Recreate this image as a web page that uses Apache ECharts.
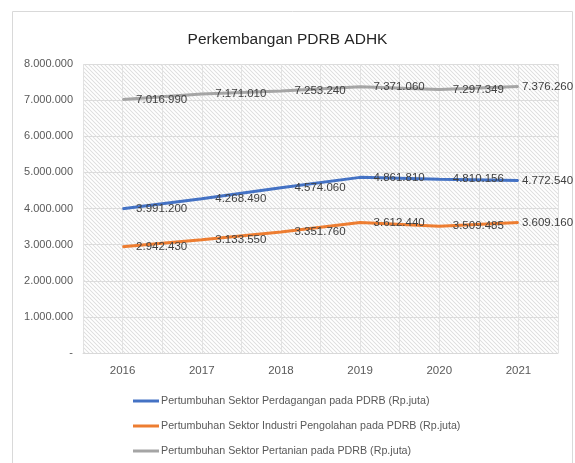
<!DOCTYPE html>
<html><head><meta charset="utf-8">
<script src="https://cdn.jsdelivr.net/npm/echarts@6/dist/echarts.min.js"></script>
<style>html,body{margin:0;padding:0;background:#fff}#c{width:575px;height:463px}</style>
</head><body><div id="c"></div>
<script>
const years = ['2016','2017','2018','2019','2020','2021'];
const perdagangan = [3991200, 4268490, 4574060, 4861810, 4810156, 4772540];
const industri = [2942430, 3133550, 3351760, 3612440, 3509485, 3609160];
const pertanian = [7016990, 7171010, 7253240, 7371060, 7297349, 7376260];
const seriesNames = [
  'Pertumbuhan Sektor Perdagangan pada PDRB (Rp.juta)',
  'Pertumbuhan Sektor Industri Pengolahan pada PDRB (Rp.juta)',
  'Pertumbuhan Sektor Pertanian pada PDRB (Rp.juta)'
];
const titleText = 'Perkembangan PDRB ADHK';

const FONT = "'Liberation Sans', Arial, sans-serif";
function fmt(v){
  if (v === 0) return '-';
  return String(Math.round(v)).replace(/\B(?=(\d{3})+(?!\d))/g, '.');
}
// hatch pattern
const pc = document.createElement('canvas');
const S = 4;
pc.width = S; pc.height = S;
const pctx = pc.getContext('2d');
const img = pctx.createImageData(S, S);
for (let y = 0; y < S; y++) for (let x = 0; x < S; x++) {
  const i = (y * S + x) * 4;
  const d = ((x - y) % S + S) % S;
  let c = 255;
  if (d === 0) c = 224; else if (d === 1 || d === S - 1) c = 248;
  img.data[i] = c; img.data[i+1] = c; img.data[i+2] = c; img.data[i+3] = 255;
}
pctx.putImageData(img, 0, 0);

const chart = echarts.init(document.getElementById('c'), null, {renderer: 'canvas'});
const colors = ['#4472C4', '#ED7D31', '#A5A5A5'];
const lbl = {
  show: true, position: 'right', distance: 13, offset: [0, 2],
  color: '#404040', fontSize: 11.5, fontFamily: FONT,
  formatter: p => fmt(p.value)
};
function mk(i, data){
  const items = data.map((v, k) => k === data.length - 1
    ? {value: v, label: {distance: 3, offset: [0, 0]}}
    : v);
  return {name: seriesNames[i], type: 'line', data: items,
    showSymbol: true, symbol: 'circle', symbolSize: 1,
    itemStyle: {color: colors[i]},
    lineStyle: {width: 3, color: colors[i]}, label: lbl, xAxisIndex: 0,
    labelLayout: {hideOverlap: false}};
}
chart.setOption({
  animation: false,
  color: colors,
  title: {
    text: titleText, left: 'center', top: 27,
    textStyle: {fontFamily: FONT, fontSize: 15.5, fontWeight: 'normal', color: '#262626'}
  },
  graphic: [{
    type: 'rect', shape: {x: 12.5, y: 11.5, width: 560, height: 470},
    style: {fill: null, stroke: '#d9d9d9', lineWidth: 1}, silent: true, z: -10
  }],
  grid: {
    left: 83, right: 17, top: 64, bottom: 110, containLabel: false,
    show: true, borderWidth: 0,
    backgroundColor: {image: pc, repeat: 'repeat'}
  },
  legend: {
    orient: 'vertical', left: 133, top: 394, height: 70, padding: 0, itemGap: 11,
    itemWidth: 26, itemHeight: 3, icon: 'rect', itemStyle: {},
    textStyle: {fontFamily: FONT, fontSize: 10.7, color: '#595959', lineHeight: 14, padding: [0, 0, 0, -3]},
    data: seriesNames
  },
  xAxis: [{
    type: 'category', data: years, boundaryGap: true,
    axisLine: {show: true, lineStyle: {color: '#d9d9d9'}},
    axisTick: {show: false},
    axisLabel: {color: '#595959', fontSize: 11.5, fontFamily: FONT, margin: 12},
    splitLine: {show: false}
  }, {
    type: 'value', min: 0, max: 12, interval: 1, position: 'bottom',
    axisLine: {show: false}, axisTick: {show: false}, axisLabel: {show: false},
    splitLine: {show: true, lineStyle: {color: '#e2e2e2', width: 1}}
  }],
  yAxis: {
    type: 'value', min: 0, max: 8000000, interval: 1000000,
    axisLine: {show: false}, axisTick: {show: false},
    axisLabel: {color: '#595959', fontSize: 11, fontFamily: FONT, margin: 10, formatter: fmt},
    splitLine: {show: true, lineStyle: {color: '#dcdcdc', width: 1}}
  },
  series: [mk(0, perdagangan), mk(1, industri), mk(2, pertanian)]
});
</script></body></html>
